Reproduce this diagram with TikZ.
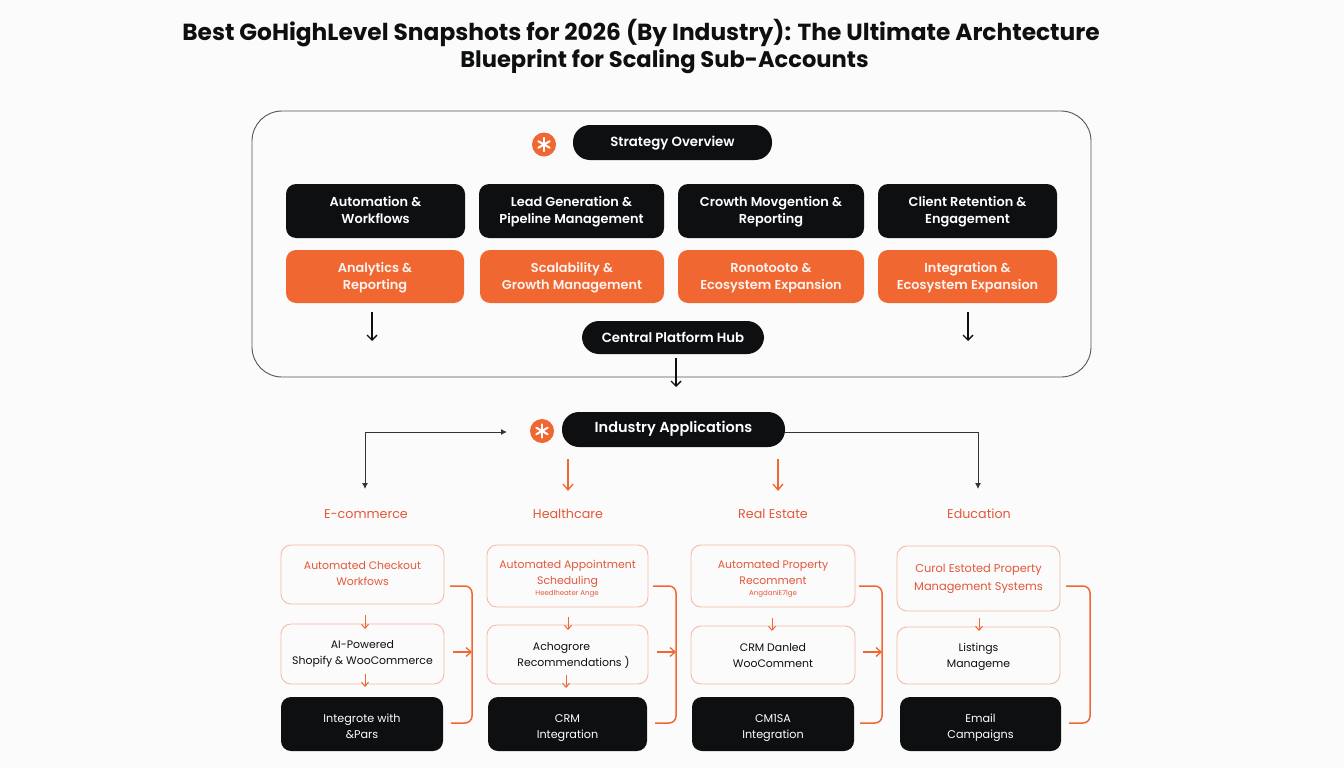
\documentclass[tikz,border=0pt]{standalone}
\usepackage{fontspec}
\setmainfont{Poppins}[BoldFont={Poppins SemiBold}]
\newfontfamily\titlefont{Poppins}
\usetikzlibrary{arrows.meta,calc}
\definecolor{bgc}{HTML}{FBFBFB}
\definecolor{ink}{HTML}{0D0F10}
\definecolor{org}{HTML}{F06732}
\definecolor{orgtext}{HTML}{E2583A}
\definecolor{orgline}{HTML}{F3BBA5}
\definecolor{frame}{HTML}{555555}
% box from corners, then its text as a node whose last line sits on the given baseline
\newcommand{\bx}[8][]{\node[#2,minimum width={(#5-#3)*1pt},minimum height={(#6-#4)*1pt}] (#7) at ({(#3+#5)/2},{(#4+#6)/2}) {};
 \node[#2,#1,fill=none,draw=none,anchor=base] (#7t) at ({(#3+#5)/2},#8)}
\tikzset{
 anybox/.style={inner sep=0pt,outer sep=0pt,align=center},
 pillbox/.style={anybox,fill=ink,text=white,rounded corners=17pt,font=\fontsize{13.3}{17}\selectfont\bfseries},
 darkbox/.style={anybox,fill=ink,text=white,rounded corners=10pt,font=\fontsize{12.9}{17}\selectfont\bfseries},
 orgbox/.style={anybox,fill=org,text=white!92!org,rounded corners=10pt,font=\fontsize{12.9}{17}\selectfont\bfseries},
 outline/.style={anybox,draw=orgline,line width=0.9pt,fill=bgc,rounded corners=10pt,text=ink,font=\fontsize{10.9}{16}\selectfont},
 outlinetop/.style={outline,text=orgtext},
 base/.style={anybox,fill=ink,text=white,rounded corners=10pt,font=\fontsize{11.2}{16}\selectfont},
 tiny/.style={text=orgtext,inner sep=0pt,font=\fontsize{7}{8}\selectfont},
 sector/.style={text=orgtext,inner sep=0pt,font=\fontsize{12.7}{14}\selectfont},
 titletext/.style={text=ink,inner sep=0pt,anchor=base},
 badge/.style={circle,fill=org,inner sep=0pt,minimum size=24pt},
 blackarrow/.style={draw=ink,line width=1.4pt,-{Straight Barb[length=5pt,width=10pt,line width=1.4pt]}},
 thinarrow/.style={draw=ink!85,line width=0.9pt,-{Latex[length=6pt,width=6pt]}},
 orgarrow/.style={draw=org,line width=1.3pt,-{Straight Barb[length=6pt,width=10pt,line width=1.3pt]}},
 smallarrow/.style={draw=org,line width=1pt,-{Straight Barb[length=4pt,width=7pt,line width=1pt]}},
 bracket/.style={draw=org,line width=1.5pt,rounded corners=7pt},
 bracketarrow/.style={draw=org,line width=1.5pt,-{Straight Barb[length=5pt,width=9pt,line width=1.3pt]}},
}
\newcommand{\asteriskrays}[1]{\foreach \ang in {90,150,210,270,330,30}{\draw[white,line width=2.1pt,line cap=round] (#1.center) -- ++(\ang:6.5pt);}}
\begin{document}
\begin{tikzpicture}[x=1pt,y=-1pt]
\fill[bgc] (0,0) rectangle (1344,768);
\useasboundingbox (0,0) rectangle (1344,768);
\node[titletext,font=\titlefont\fontsize{23.3}{26}\selectfont\bfseries] (title1) at (641,40.5) {Best GoHighLevel Snapshots for 2026 (By Industry): The Ultimate Archtecture};
\node[titletext,font=\titlefont\fontsize{22.6}{26}\selectfont\bfseries] (title2) at (664.5,67) {Blueprint for Scaling Sub-Accounts};
% frame
\node[inner sep=0pt,outer sep=0pt,draw=frame,line width=0.9pt,rounded corners=30pt,minimum width=839pt,minimum height=266pt] (frame) at (671.5,244) {};
\node[badge] (badge1) at (544,144.5) {};
\asteriskrays{badge1}
\bx{pillbox}{573}{125}{772}{160}{strategy}{146} {Strategy Overview};
\bx{darkbox}{286}{184}{465}{238}{d1}{223.5} {Automation \&\\Workflows};
\bx{darkbox}{479}{184}{664}{238}{d2}{223.5} {Lead Generation \&\\Pipeline Management};
\bx{darkbox}{678}{184}{864}{238}{d3}{223.5} {Crowth Movgention \&\\Reporting};
\bx{darkbox}{878}{184}{1057}{238}{d4}{223.5} {Client Retention \&\\Engagement};
\bx{orgbox}{286}{250}{464}{303}{o1}{289.5} {Analytics \&\\Reporting};
\bx{orgbox}{480}{250}{664}{303}{o2}{289.5} {Scalability \&\\Growth Management};
\bx{orgbox}{678}{250}{864}{303}{o3}{289.5} {Ronotooto \&\\Ecosystem Expansion};
\bx{orgbox}{878}{250}{1057}{303}{o4}{289.5} {Integration \&\\Ecosystem Expansion};
\bx{pillbox}{582}{321}{764}{354}{hub}{342} {Central Platform Hub};
\coordinate (a1s) at (372,312); \coordinate (a1e) at (372,341);
\coordinate (a2s) at (968,312); \coordinate (a2e) at (968,341);
\coordinate (a3s) at (676,358); \coordinate (a3e) at (676,387);
\draw[blackarrow] (a1s) -- (a1e);
\draw[blackarrow] (a2s) -- (a2e);
\draw[blackarrow] (a3s) -- (a3e);
% industry
\node[badge] (badge2) at (542,431) {};
\asteriskrays{badge2}
\bx[font=\fontsize{14.5}{17}\selectfont\bfseries]{pillbox}{562}{412}{785}{447}{ind}{432.5} {Industry Applications};
\node[sector] (ecom) at (366,514) {E-commerce};
\node[sector] (heal) at (568,514) {Healthcare};
\node[sector] (real) at (773,514) {Real Estate};
\node[sector] (educ) at (979,514) {Education};
\coordinate (ecomtip) at (365,489);
\coordinate (lefttip) at (507,432);
\coordinate (corner) at (365,432);
\coordinate (edutip) at (978,489);
\coordinate (healtop) at (568,459); \coordinate (healtip) at (568,491);
\coordinate (realtop) at (778,459); \coordinate (realtip) at (778,491);
\draw[thinarrow] (corner) -- (ecomtip);
\draw[thinarrow] (corner) -- (lefttip);
\draw[thinarrow] (ind.east |- corner) -| (edutip);
\draw[orgarrow] (healtop) -- (healtip);
\draw[orgarrow] (realtop) -- (realtip);
% column 1
\bx{outlinetop}{281}{545}{444}{604}{a1}{585} {Automated Checkout\\Workfows};
\bx{outline}{281}{624}{444}{684}{a2}{664} {AI-Powered\\Shopify \& WooCommerce};
\bx{base}{281}{697}{443}{751}{a3}{738} {Integrote with\\\&Pars};
% column 2
\bx{outlinetop}{487}{545}{648}{607}{b1}{584} {Automated Appointment\\Scheduling};
\node[tiny] (b1s) at (567,594) {Heedlheater Ange};
\bx{outline}{487}{625}{648}{684}{b2}{666} {\hspace*{0pt}Achogrore\hspace*{12pt}\\\hspace*{12pt}Recommendations )};
\bx{base}{488}{697}{647}{751}{b3}{738} {CRM\\Integration};
% column 3
\bx{outlinetop}{691}{545}{855}{607}{c1}{584} {Automated Property\\Recomment};
\node[tiny] (c1s) at (773,594) {AngdaniE7lge};
\bx{outline}{691}{626}{855}{684}{c2}{667} {CRM Danled\\WooComment};
\bx{base}{692}{697}{854}{751}{c3}{738} {CM1SA\\Integration};
% column 4
\bx[font=\fontsize{11.4}{18}\selectfont]{outlinetop}{897}{546}{1060}{611}{e1}{590} {Curol Estoted Property\\Management Systems};
\bx{outline}{897}{627}{1060}{684}{e2}{667} {Listings\\Manageme};
\bx{base}{900}{697}{1061}{751}{e3}{738} {Email\\Campaigns};
% small arrows
\draw[smallarrow] ([yshift=-11pt]a1.south -| 365,0) -- ([yshift=-5pt]a2.north -| 365,0);
\draw[smallarrow] ([yshift=10pt]a2.south -| 365,0) -- ([yshift=10pt]a3.north -| 365,0) ;
\draw[smallarrow] ([yshift=-10pt]b1.south -| 568,0) -- ([yshift=-5pt]b2.north -| 568,0);
\draw[smallarrow] ([yshift=9pt]b2.south -| 566,0) -- ([yshift=9pt]b3.north -| 566,0);
\draw[smallarrow] ([yshift=-11pt]c1.south -| 772,0) -- ([yshift=-5pt]c2.north -| 772,0);
\draw[smallarrow] ([yshift=-7pt]e1.south -| 979,0) -- ([yshift=-4pt]e2.north -| 979,0);
% brackets
\coordinate (p1a) at (450,586); \coordinate (p1b) at (472,586); \coordinate (p1c) at (472,723); \coordinate (p1d) at (451,723);
\coordinate (p1m) at (453,652); \coordinate (p1n) at (472,652);
\coordinate (p2a) at (653,586); \coordinate (p2b) at (676,586); \coordinate (p2c) at (676,723); \coordinate (p2d) at (655,723);
\coordinate (p2m) at (657,652); \coordinate (p2n) at (676,652);
\coordinate (p3a) at (859,586); \coordinate (p3b) at (882,586); \coordinate (p3c) at (882,723); \coordinate (p3d) at (860,723);
\coordinate (p3m) at (863,652); \coordinate (p3n) at (882,652);
\coordinate (p4a) at (1066,586); \coordinate (p4b) at (1090,586); \coordinate (p4c) at (1090,723); \coordinate (p4d) at (1069,723);
\draw[bracket] (p1a) -- (p1b) -- (p1c) -- (p1d);
\draw[bracket] (p2a) -- (p2b) -- (p2c) -- (p2d);
\draw[bracket] (p3a) -- (p3b) -- (p3c) -- (p3d);
\draw[bracket] (p4a) -- (p4b) -- (p4c) -- (p4d);
\draw[bracketarrow] (p1m) -- (p1n);
\draw[bracketarrow] (p2m) -- (p2n);
\draw[bracketarrow] (p3m) -- (p3n);
\end{tikzpicture}
\end{document}
